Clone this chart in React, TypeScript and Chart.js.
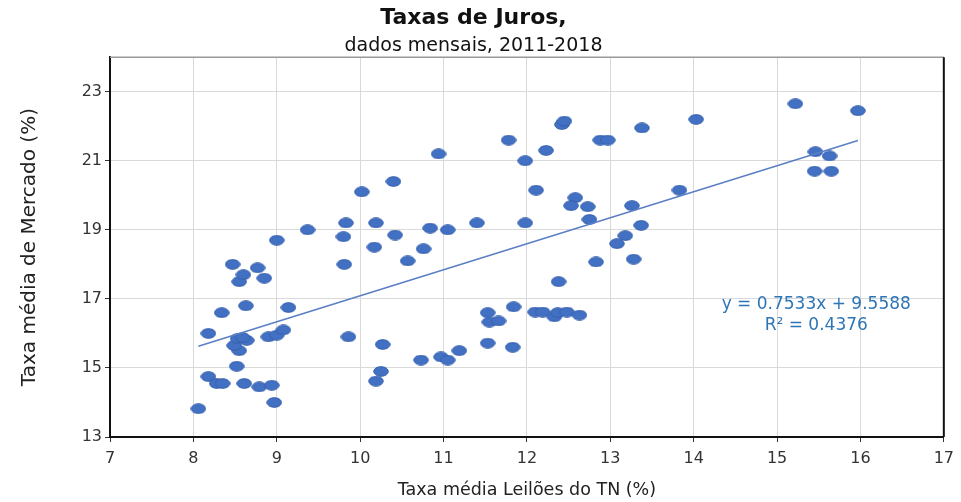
import React, { useEffect, useRef } from "react";
import { Chart, registerables } from "chart.js";

Chart.register(...registerables);

const TITLE = "Taxas de Juros,";
const SUBTITLE = "dados mensais, 2011-2018";
const X_TITLE = "Taxa média Leilões do TN (%)";
const Y_TITLE = "Taxa média de Mercado (%)";
const Y_TICKS = [13, 15, 17, 19, 21, 23];

const LEILOES_TN = [
  8.06, 8.18, 8.28, 8.35, 8.61, 8.79, 8.94, 8.97, 8.52, 8.55, 8.49, 8.53, 8.64, 8.59,
  8.18, 8.9, 9.0, 9.08, 8.34, 8.63, 9.14, 8.55, 8.6, 8.85, 8.77, 8.47, 9.0, 9.86,
  9.37, 9.83, 9.8, 9.81, 10.02, 10.19, 10.17, 10.4, 10.42, 10.57, 10.76, 10.84, 11.05,
  10.94, 11.4, 11.78, 11.98, 12.23, 12.11, 11.98,
  10.27, 10.25, 10.19, 10.73, 10.97, 11.05, 11.19, 11.53, 11.83, 11.53, 11.55, 11.66,
  11.84, 12.1, 12.19, 12.33, 12.37, 12.48, 12.63, 12.38,
  12.42, 12.45, 13.38, 14.03, 12.88, 12.97, 13.83, 12.58, 12.53, 12.73, 13.26, 12.75,
  13.37, 13.18, 13.08, 12.83, 13.28,
  15.22, 15.97, 15.46, 15.63, 15.45, 15.65,
];
const MERCADO = [
  13.82, 14.75, 14.55, 14.55, 14.55, 14.45, 14.5, 14.0, 15.05, 15.5, 15.65, 15.85, 15.8, 15.88,
  16.0, 15.9, 15.95, 16.1, 16.6, 16.8, 16.75, 17.5, 17.7, 17.6, 17.9, 18.0, 18.7, 15.9,
  19.0, 19.2, 18.8, 18.0, 20.1, 19.2, 18.5, 20.4, 18.85, 18.1, 18.45, 19.05, 19.0,
  21.2, 19.2, 21.6, 21.0, 21.3, 20.15, 19.2,
  15.68, 14.9, 14.62, 15.23, 15.32, 15.23, 15.5, 15.72, 15.6, 16.6, 16.33, 16.36,
  16.77, 16.62, 16.62, 16.48, 16.6, 16.62, 16.53, 17.5,
  22.05, 22.15, 21.95, 22.2, 21.6, 21.6, 20.15, 19.93, 19.7, 19.67, 19.7, 19.3,
  19.13, 18.83, 18.6, 18.07, 18.15,
  22.65, 22.45, 21.26, 21.14, 20.7, 20.7,
];

const SLOPE = 0.7533;
const INTERCEPT = 9.5588;
const EQ_LINE1 = "y = 0.7533x + 9.5588";
const EQ_LINE2 = "R² = 0.4376";
const EQ_X = 15.47;
const EQ_Y1 = 16.83;
const EQ_Y2 = 16.22;

const FONT = "'DejaVu Sans', sans-serif";

function makeEllipse(w: number, h: number, fill: string, stroke: string) {
  const c = document.createElement("canvas");
  c.width = w;
  c.height = h;
  const g = c.getContext("2d")!;
  g.beginPath();
  g.ellipse(w / 2, h / 2, w / 2 - 0.7, h / 2 - 0.7, 0, 0, Math.PI * 2);
  g.fillStyle = fill;
  g.fill();
  g.strokeStyle = stroke;
  g.lineWidth = 1;
  g.stroke();
  return c;
}

export default function App() {
  const ref = useRef<HTMLCanvasElement | null>(null);

  useEffect(() => {
    if (!ref.current) return;
    const dot = makeEllipse(16, 11, "#4270C2", "#3760AE");
    const pts = LEILOES_TN.map((x, i) => ({ x, y: MERCADO[i] }));
    const xMin = Math.min(...LEILOES_TN);
    const xMax = Math.max(...LEILOES_TN);
    const trend = [
      { x: xMin, y: SLOPE * xMin + INTERCEPT },
      { x: xMax, y: SLOPE * xMax + INTERCEPT },
    ];

    const framePlugin = {
      id: "frame",
      beforeDatasetsDraw(chart: any) {
        const { ctx, chartArea } = chart;
        ctx.save();
        ctx.strokeStyle = "#9a9a9a";
        ctx.lineWidth = 1.5;
        ctx.beginPath();
        ctx.moveTo(chartArea.left, chartArea.top);
        ctx.lineTo(chartArea.right, chartArea.top);
        ctx.stroke();
        ctx.strokeStyle = "#111";
        ctx.lineWidth = 2;
        ctx.beginPath();
        ctx.moveTo(chartArea.right, chartArea.top);
        ctx.lineTo(chartArea.right, chartArea.bottom);
        ctx.stroke();
        ctx.restore();
      },
      afterDatasetsDraw(chart: any) {
        const { ctx, scales } = chart;
        ctx.save();
        ctx.font = `17px ${FONT}`;
        ctx.fillStyle = "#2E75B6";
        ctx.textAlign = "center";
        ctx.textBaseline = "middle";
        const cx = scales.x.getPixelForValue(EQ_X);
        ctx.fillText(EQ_LINE1, cx, scales.y.getPixelForValue(EQ_Y1));
        ctx.fillText(EQ_LINE2, cx, scales.y.getPixelForValue(EQ_Y2));
        ctx.restore();
      },
    };

    const chart = new Chart(ref.current, {
      type: "scatter",
      data: {
        datasets: [
          {
            type: "line",
            data: trend,
            borderColor: "#5B7FC4",
            borderWidth: 1.5,
            pointRadius: 0,
            fill: false,
            order: 0,
          } as any,
          {
            data: pts,
            pointStyle: dot as any,
            pointRadius: 8,
            order: 1,
          },
        ],
      },
      options: {
        animation: false,
        responsive: false,
        devicePixelRatio: 1,
        layout: { padding: { left: 0, right: 14, top: 0, bottom: 0 } },
        plugins: {
          legend: { display: false },
          tooltip: { enabled: false },
          title: {
            display: true,
            text: TITLE,
            color: "#111",
            font: { family: FONT, size: 22, weight: "bold" },
            padding: { top: 5, bottom: 0 },
          },
          subtitle: {
            display: true,
            text: SUBTITLE,
            color: "#111",
            font: { family: FONT, size: 19 },
            padding: { top: 3, bottom: 0 },
          },
        },
        scales: {
          x: {
            type: "linear",
            min: 7,
            max: 17,
            ticks: { stepSize: 1, color: "#333", font: { family: FONT, size: 16 }, padding: 7 },
            grid: { color: "#d9d9d9", lineWidth: 1, tickColor: "#333", tickLength: 5 },
            border: { color: "#111", width: 2 },
            title: {
              display: true,
              text: X_TITLE,
              color: "#222",
              font: { family: FONT, size: 17.5 },
              padding: { top: 0, bottom: 1 },
            },
            afterFit(scale: any) {
              scale.height = 65;
            },
          },
          y: {
            type: "linear",
            min: 13,
            max: 24,
            afterBuildTicks(scale: any) {
              scale.ticks = Y_TICKS.map((v) => ({ value: v }));
            },
            ticks: { color: "#333", font: { family: FONT, size: 16 }, padding: 3 },
            grid: { color: "#d9d9d9", lineWidth: 1, tickColor: "#333", tickLength: 5 },
            border: { color: "#111", width: 2 },
            title: {
              display: true,
              text: Y_TITLE,
              color: "#222",
              font: { family: FONT, size: 20 },
              padding: { top: 18, bottom: 0 },
            },
            afterFit(scale: any) {
              scale.width = 110;
            },
          },
        },
      },
      plugins: [framePlugin],
    });
    return () => chart.destroy();
  }, []);

  return (
    <div style={{ position: "fixed", left: 0, top: 0, width: 961, height: 502, background: "#fff" }}>
      <canvas ref={ref} width={961} height={502} style={{ display: "block" }} />
    </div>
  );
}
